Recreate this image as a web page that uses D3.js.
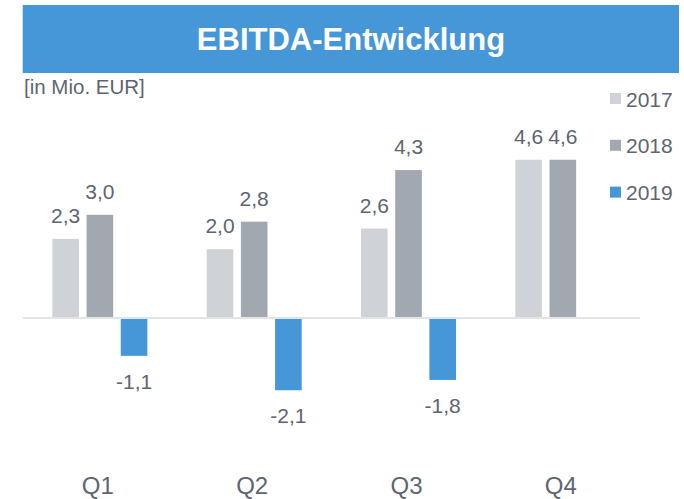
<!DOCTYPE html>
<html><head><meta charset="utf-8">
<script src="https://cdn.jsdelivr.net/npm/d3@7"></script>
<style>html,body{margin:0;padding:0;background:#fff;}svg{display:block;}</style>
</head><body>
<script>
const categories = ["Q1", "Q2", "Q3", "Q4"];
const seriesNames = ["2017", "2018", "2019"];
const values2017 = [2.3, 2.0, 2.6, 4.6];
const values2018 = [3.0, 2.8, 4.3, 4.6];
const values2019 = [-1.1, -2.1, -1.8, null];
const colors = ["#cfd2d6", "#a1a8b0", "#4597d8"];
const title = "EBITDA-Entwicklung";
const unitLabel = "[in Mio. EUR]";

const series = [values2017, values2018, values2019];
const W = 684, H = 499;
const textColor = "#5e6571";
const font = "'Liberation Sans', Arial, sans-serif";

const svg = d3.select("body").append("svg").attr("width", W).attr("height", H);

// title bar
svg.append("rect").attr("x", 22.7).attr("y", 5).attr("width", 656.3).attr("height", 68).attr("fill", "#4597d8");
svg.append("text").attr("x", 351).attr("y", 49.5).attr("text-anchor", "middle")
  .attr("font-family", font).attr("font-weight", "bold").attr("font-size", 31)
  .attr("fill", "#fff").text(title);

svg.append("text").attr("x", 24).attr("y", 94).attr("font-family", font)
  .attr("font-size", 20.5).attr("fill", textColor).text(unitLabel);

const x0 = d3.scaleBand().domain(categories).range([22.7, 640]).padding(0);
const x1 = d3.scaleBand().domain(seriesNames).range([0, x0.bandwidth()])
  .paddingInner(0.222).paddingOuter(0.867);
const y = d3.scaleLinear().domain([-4, 6]).range([318 + 4 * 34.4, 318 - 6 * 34.4]);

// baseline
svg.append("line").attr("x1", x0.range()[0]).attr("x2", x0.range()[1])
  .attr("y1", y(0)).attr("y2", y(0)).attr("stroke", "#e3e4e8").attr("stroke-width", 2);

const bars = [];
series.forEach((vals, si) => {
  vals.forEach((v, ci) => {
    if (v === null || v === undefined) return;
    bars.push({ s: seriesNames[si], si, c: categories[ci], v });
  });
});

const g = svg.append("g");
g.selectAll("rect.bar").data(bars).enter().append("rect").attr("class", "bar")
  .attr("x", d => x0(d.c) + x1(d.s))
  .attr("width", x1.bandwidth())
  .attr("y", d => d.v >= 0 ? y(d.v) : y(0) + 1)
  .attr("height", d => d.v >= 0 ? y(0) - 1 - y(d.v) : y(d.v) - y(0) - 1)
  .attr("fill", d => colors[d.si]);

const fmt = v => d3.format(".1f")(v).replace(".", ",").replace("\u2212", "-");
g.selectAll("text.val").data(bars).enter().append("text").attr("class", "val")
  .attr("x", d => x0(d.c) + x1(d.s) + x1.bandwidth() / 2)
  .attr("y", d => d.v >= 0 ? y(d.v) - 16 : y(d.v) + 33)
  .attr("text-anchor", "middle").attr("font-family", font).attr("font-size", 21)
  .attr("fill", textColor).text(d => fmt(d.v));

// category labels
svg.selectAll("text.cat").data(categories).enter().append("text").attr("class", "cat")
  .attr("x", d => x0(d) + x0.bandwidth() / 2 - 2)
  .attr("y", 494).attr("text-anchor", "middle").attr("font-family", font)
  .attr("font-size", 24).attr("fill", textColor).text(d => d);

// legend
const leg = svg.selectAll("g.leg").data(seriesNames).enter().append("g").attr("class", "leg")
  .attr("transform", (d, i) => `translate(610, ${98.5 + i * 46.8})`);
leg.append("rect").attr("x", 0).attr("y", -5.5).attr("width", 11).attr("height", 11)
  .attr("fill", (d, i) => colors[i]);
leg.append("text").attr("x", 16).attr("y", 8).attr("font-family", font)
  .attr("font-size", 21).attr("fill", textColor).text(d => d);
</script>
</body></html>
